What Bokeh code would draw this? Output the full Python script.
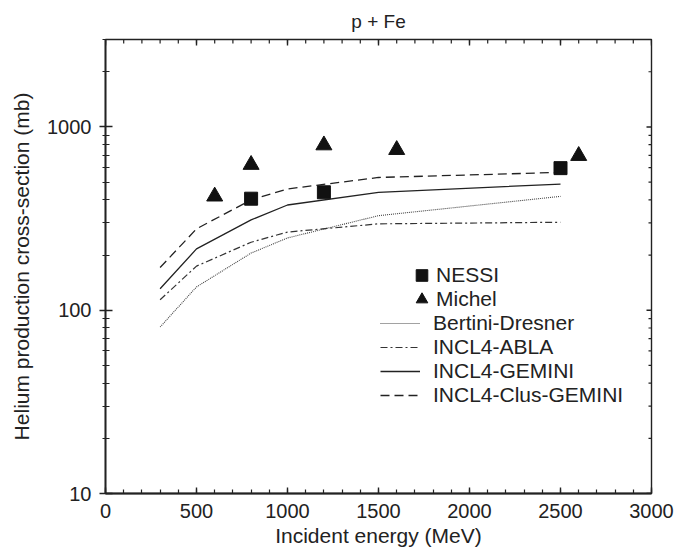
import math
from bokeh.plotting import figure
from bokeh.models import (FixedTicker, Legend, LegendItem, Range1d, PrintfTickFormatter)
from bokeh.embed import file_html
from bokeh.resources import INLINE

# ---- data ----
energy_model = [300, 500, 800, 1000, 1500, 2500]
bertini_dresner = [81, 134, 205, 248, 328, 418]
incl4_abla = [114, 174, 235, 267, 296, 302]
incl4_gemini = [131, 216, 311, 375, 440, 488]
incl4_clus_gemini = [171, 278, 400, 459, 530, 565]

nessi_energy = [800, 1200, 2500]
nessi_xs = [406, 440, 596]

michel_energy = [600, 800, 1200, 1600, 2600]
michel_xs = [418, 622, 795, 750, 696]

X_MIN, X_MAX = 0, 3000
Y_MIN, Y_MAX = 10, 3000
x_major_ticks = [0, 500, 1000, 1500, 2000, 2500, 3000]
x_minor_ticks = [100 * i for i in range(31)]
y_major_ticks = [10, 100, 1000]
y_minor_ticks = [20, 30, 40, 50, 60, 70, 80, 90,
                 200, 300, 400, 500, 600, 700, 800, 900, 2000, 3000]
TITLE = "p + Fe"

FONT = "Liberation Sans"
INK = "#222222"

p = figure(width=674, height=552, x_range=Range1d(X_MIN, X_MAX), y_range=Range1d(Y_MIN, Y_MAX),
           y_axis_type="log", output_backend="svg", toolbar_location=None,
           min_border_left=105, min_border_right=23, min_border_top=0, min_border_bottom=59,
           x_axis_label="Incident energy (MeV)",
           y_axis_label="Helium production cross-section (mb)")
p.title.text = TITLE
p.title.align = "center"
p.title.text_font = FONT
p.title.text_font_size = "19px"
p.title.text_font_style = "normal"
p.title.text_color = INK
p.title.standoff = 16

p.grid.visible = False
p.outline_line_color = INK
p.outline_line_width = 1.4
p.background_fill_color = "white"

xa = p.xaxis[0]
xa.ticker = FixedTicker(ticks=x_major_ticks, minor_ticks=x_minor_ticks)
ya = p.yaxis[0]
ya.ticker = FixedTicker(ticks=y_major_ticks, minor_ticks=y_minor_ticks)
ya.formatter = PrintfTickFormatter(format="%d")

for ax in (xa, ya):
    ax.axis_line_color = INK
    ax.axis_line_width = 1.8
    ax.major_tick_line_color = INK
    ax.minor_tick_line_color = INK
    ax.major_tick_line_width = 1.4
    ax.minor_tick_line_width = 1.2
    ax.major_label_text_font = FONT
    ax.major_label_text_font_size = "20px"
    ax.major_label_text_color = INK
    ax.axis_label_text_font = FONT
    ax.axis_label_text_font_style = "normal"
    ax.axis_label_text_color = INK

xa.axis_label_text_font_size = "21px"
ya.axis_label_text_font_size = "21px"

xa.major_tick_in = 6
xa.major_tick_out = 0
xa.minor_tick_in = 4
xa.minor_tick_out = 0
xa.major_label_standoff = 10
xa.axis_label_standoff = 3

ya.major_tick_in = 7
ya.major_tick_out = 6
ya.minor_tick_in = 4
ya.minor_tick_out = 3
ya.major_label_standoff = 8
ya.axis_label_standoff = 11

# mirrored ticks on the top and right edges of the frame
p.scatter(x_minor_ticks, [Y_MAX] * len(x_minor_ticks), marker="dash", angle=math.pi / 2,
          size=8, line_color=INK, line_width=1.2)
p.scatter(x_major_ticks, [Y_MAX] * len(x_major_ticks), marker="dash", angle=math.pi / 2,
          size=12, line_color=INK, line_width=1.4)
p.scatter([X_MAX] * len(y_minor_ticks), y_minor_ticks, marker="dash",
          size=6, line_color=INK, line_width=1.2)
p.scatter([X_MAX] * len(y_major_ticks), y_major_ticks, marker="dash",
          size=10, line_color=INK, line_width=1.4)

r_bd = p.line(energy_model, bertini_dresner, line_color="#444444", line_width=1.1, line_dash="1 1")
r_abla = p.line(energy_model, incl4_abla, line_color="#333333", line_width=1.2, line_dash="7 3 2 3")
r_gem = p.line(energy_model, incl4_gemini, line_color=INK, line_width=1.3)
r_clus = p.line(energy_model, incl4_clus_gemini, line_color=INK, line_width=1.3, line_dash="9 5")

r_nessi = p.scatter(nessi_energy, nessi_xs, marker="square", size=13, fill_color="#111111", line_color="#111111")
r_michel = p.scatter(michel_energy, michel_xs, marker="triangle", size=16, fill_color="#111111", line_color="#111111")

common = dict(border_line_color=None, background_fill_alpha=0, padding=0, margin=0,
              label_text_font=FONT, label_text_font_size="21px", label_text_color=INK)

leg_nessi = Legend(items=[LegendItem(label="NESSI", renderers=[r_nessi])],
                   location=(302, 203), glyph_width=29, glyph_height=30, label_height=30,
                   label_standoff=0, spacing=0, **common)
leg_michel = Legend(items=[LegendItem(label="Michel", renderers=[r_michel])],
                    location=(302, 179), glyph_width=29, glyph_height=30, label_height=30,
                    label_standoff=0, spacing=0, **common)
leg_l = Legend(items=[LegendItem(label="Bertini-Dresner", renderers=[r_bd]),
                      LegendItem(label="INCL4-ABLA", renderers=[r_abla]),
                      LegendItem(label="INCL4-GEMINI", renderers=[r_gem]),
                      LegendItem(label="INCL4-Clus-GEMINI", renderers=[r_clus])],
               location=(275, 86), glyph_width=40, glyph_height=24, label_height=24,
               spacing=0, label_standoff=13, **common)
p.add_layout(leg_nessi, "center")
p.add_layout(leg_michel, "center")
p.add_layout(leg_l, "center")

open("out.html", "w").write(file_html(p, INLINE))
